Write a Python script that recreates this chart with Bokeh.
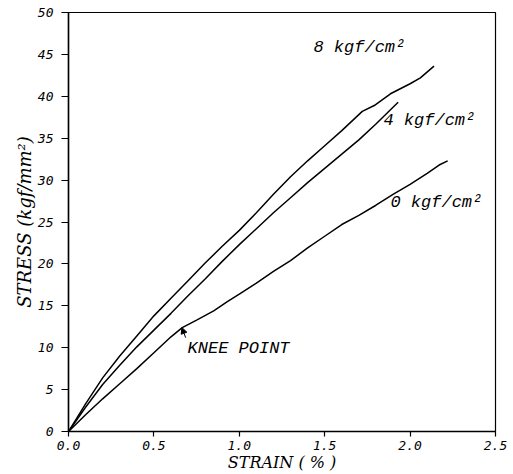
import numpy as np
from bokeh.plotting import figure
from bokeh.models import Label, Arrow, NormalHead, SingleIntervalTicker, PrintfTickFormatter, Title
from bokeh.embed import file_html
from bokeh.resources import INLINE

# strain (%) and stress (kgf/mm^2) for each confining pressure
strain_8 = [0, 0.1, 0.2, 0.3, 0.4, 0.5, 0.6, 0.7, 0.8, 0.9, 1.0, 1.1, 1.2, 1.3, 1.4, 1.5, 1.6, 1.72, 1.79, 1.885, 2.0, 2.06, 2.14]
stress_8 = [0, 3.3, 6.4, 9.0, 11.4, 13.8, 15.9, 18.0, 20.1, 22.1, 24.0, 26.1, 28.3, 30.4, 32.3, 34.1, 35.9, 38.2, 38.9, 40.3, 41.5, 42.2, 43.6]

strain_4 = [0, 0.1, 0.2, 0.3, 0.4, 0.5, 0.6, 0.7, 0.8, 0.9, 1.0, 1.1, 1.2, 1.3, 1.4, 1.5, 1.6, 1.7, 1.8, 1.93]
stress_4 = [0, 2.9, 5.6, 7.9, 10.1, 12.1, 14.1, 16.2, 18.2, 20.3, 22.3, 24.2, 26.1, 27.9, 29.7, 31.4, 33.1, 34.8, 36.7, 39.3]

strain_0 = [0, 0.1, 0.2, 0.3, 0.4, 0.5, 0.6, 0.666, 0.75, 0.85, 0.93, 1.0, 1.1, 1.2, 1.3, 1.4, 1.5, 1.6, 1.7, 1.8, 1.9, 2.0, 2.1, 2.17, 2.22]
stress_0 = [0, 2.0, 3.9, 5.7, 7.5, 9.4, 11.3, 12.4, 13.3, 14.4, 15.5, 16.4, 17.7, 19.1, 20.4, 21.9, 23.3, 24.7, 25.8, 27.0, 28.3, 29.5, 30.8, 31.8, 32.3]

curve_labels = ["8 kgf/cm\u00b2", "4 kgf/cm\u00b2", "0 kgf/cm\u00b2"]
knee_strain, knee_stress = 0.664, 12.4

p = figure(width=513, height=474, output_backend="svg", toolbar_location=None,
           x_range=(0, 2.5), y_range=(0, 50),
           min_border_left=68, min_border_right=18, min_border_top=12, min_border_bottom=43)
p.background_fill_color = "white"
p.border_fill_color = "white"
p.grid.visible = False
p.outline_line_color = "black"
p.outline_line_width = 1.2

for xs, ys in [(strain_8, stress_8), (strain_4, stress_4), (strain_0, stress_0)]:
    p.line(xs, ys, line_color="black", line_width=1.5)

tick_font = "DejaVu Sans Mono"
p.xaxis.ticker = SingleIntervalTicker(interval=0.5)
p.yaxis.ticker = SingleIntervalTicker(interval=5)
p.xaxis.formatter = PrintfTickFormatter(format="%.1f")
for ax in (p.xaxis, p.yaxis):
    ax.axis_line_color = "black"
    ax.axis_line_width = 1.5
    ax.major_tick_line_color = "black"
    ax.major_tick_line_width = 1.2
    ax.major_tick_in = 0
    ax.minor_tick_line_color = None
    ax.major_label_text_font = tick_font
    ax.major_label_text_font_style = "italic"
    ax.major_label_text_font_size = "13px"
    ax.major_label_text_color = "black"
p.xaxis.major_tick_out = 5
p.yaxis.major_tick_out = 7
p.xaxis.major_label_standoff = 4
p.yaxis.major_label_standoff = 8

title_font = "DejaVu Serif"
p.xaxis.axis_label = "STRAIN ( % )"
p.xaxis.axis_label_text_font = title_font
p.xaxis.axis_label_text_font_style = "italic"
p.xaxis.axis_label_text_font_size = "16px"
p.xaxis.axis_label_text_color = "black"
p.xaxis.axis_label_standoff = 0

p.add_layout(Title(text="STRESS (kgf/mm\u00b2)", align="center", offset=21,
                   text_font=title_font, text_font_style="italic", text_font_size="18px",
                   text_color="black", standoff=0), "left")

ann_font = "Liberation Mono"
for (lx, ly), txt in zip([(1.434, 45.8), (1.844, 37.1), (1.885, 27.3)], curve_labels):
    p.add_layout(Label(x=lx, y=ly, text=txt, text_align="left", text_baseline="middle",
                       text_font=ann_font, text_font_style="italic", text_font_size="17px",
                       text_color="black"))
p.add_layout(Label(x=0.697, y=9.9, text="KNEE POINT", text_align="left", text_baseline="middle",
                   text_font=ann_font, text_font_style="italic", text_font_size="17px",
                   text_color="black"))
p.add_layout(Arrow(end=NormalHead(size=6, fill_color="black", line_color="black"),
                   x_start=0.686, y_start=11.2, x_end=knee_strain, y_end=knee_stress,
                   line_color="black", line_width=1))

open("out.html", "w").write(file_html(p, INLINE))
